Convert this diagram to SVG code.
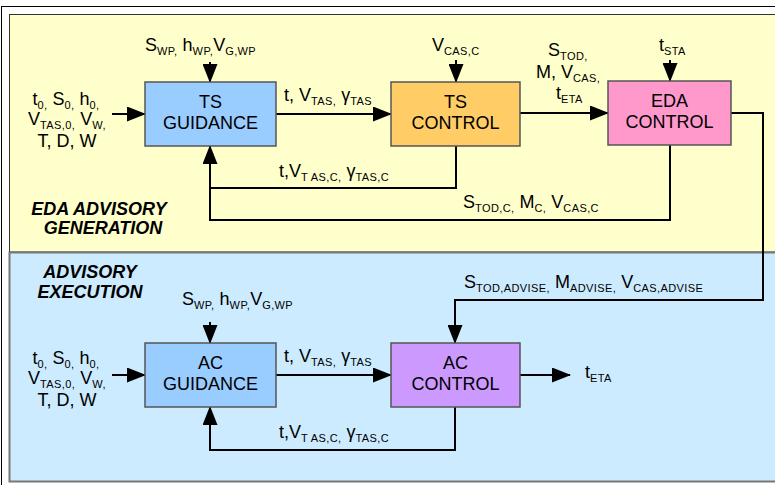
<svg xmlns="http://www.w3.org/2000/svg" width="775" height="485" viewBox="0 0 775 485">
<defs>
<marker id="ah" markerUnits="userSpaceOnUse" markerWidth="19" markerHeight="15" refX="18" refY="7.5" orient="auto"><path d="M0,0 L19,7.5 L0,15 z" fill="#000"/></marker>
<style>
text{font-family:"Liberation Sans",Arial,sans-serif;font-size:18px;fill:#000;white-space:pre}
.s{font-size:11px;letter-spacing:0.4px}
.c{text-anchor:middle}
.h{font-weight:bold;font-style:italic}
.box{stroke:#555;stroke-width:1.5}
.ln{fill:none;stroke:#000;stroke-width:2}
.arr{marker-end:url(#ah)}
</style>
</defs>
<rect x="0" y="0" width="775" height="485" fill="#fff"/>
<rect x="1.5" y="6.5" width="800" height="500" fill="#fff" stroke="#000" stroke-width="1"/>
<g id="panel-generation">
<rect x="9.5" y="14.5" width="800" height="237.5" fill="#FFFFCC" stroke="#333" stroke-width="1"/>
<text class="h c" x="99" y="215">EDA ADVISORY</text>
<text class="h c" x="103" y="234">GENERATION</text>
</g>
<g id="panel-execution">
<rect x="9.5" y="252.5" width="800" height="229" fill="#CCEBFF" stroke="#777" stroke-width="2"/>
<text class="h c" x="90" y="278">ADVISORY</text>
<text class="h c" x="90" y="298">EXECUTION</text>
</g>
<g id="connectors">
<path class="ln arr" d="M210,62 V82"/>
<path class="ln arr" d="M112,114 H145"/>
<path class="ln arr" d="M276,114 H391"/>
<path class="ln arr" d="M520,113 H608"/>
<path class="ln arr" d="M456,60 V82"/>
<path class="ln arr" d="M670,60 V81"/>
<path class="ln arr" d="M456,146 V188 H210 V146"/>
<path class="ln" d="M670,145 V220 H210 V188"/>
<path class="ln arr" d="M731,113 H763 V300 H455 V343"/>
<path class="ln arr" d="M210,322 V343"/>
<path class="ln arr" d="M112,375 H145"/>
<path class="ln arr" d="M276,375 H391"/>
<path class="ln arr" d="M520,375 H570"/>
<path class="ln arr" d="M455,407 V450 H210 V407"/>
</g>
<g id="ts-guidance">
<rect class="box" x="145" y="82" width="131" height="64" fill="#99CCFF"/>
<text class="c" x="210.5" y="108">TS</text>
<text class="c" x="210.5" y="129">GUIDANCE</text>
</g>
<g id="ts-control">
<rect class="box" x="391" y="82" width="129" height="64" fill="#FFCC66"/>
<text class="c" x="455.5" y="108">TS</text>
<text class="c" x="455.5" y="129">CONTROL</text>
</g>
<g id="eda-control">
<rect class="box" x="608" y="81" width="123" height="64" fill="#FF99CC"/>
<text class="c" x="669.5" y="107">EDA</text>
<text class="c" x="669.5" y="128">CONTROL</text>
</g>
<g id="ac-guidance">
<rect class="box" x="145" y="343" width="131" height="64" fill="#99CCFF"/>
<text class="c" x="210.5" y="369">AC</text>
<text class="c" x="210.5" y="390">GUIDANCE</text>
</g>
<g id="ac-control">
<rect class="box" x="391" y="343" width="129" height="64" fill="#CC99FF"/>
<text class="c" x="455.5" y="369">AC</text>
<text class="c" x="455.5" y="390">CONTROL</text>
</g>
<g id="labels">
<text x="145" y="51">S<tspan class="s" dy="4">WP,</tspan><tspan dy="-4"> h</tspan><tspan class="s" dy="4">WP,</tspan><tspan dy="-4">V</tspan><tspan class="s" dy="4">G,WP</tspan></text>
<text class="c" x="66" y="105">t<tspan class="s" dy="4">0,</tspan><tspan dy="-4"> S</tspan><tspan class="s" dy="4">0,</tspan><tspan dy="-4"> h</tspan><tspan class="s" dy="4">0,</tspan></text>
<text class="c" x="67" y="125">V<tspan class="s" dy="4">TAS,0,</tspan><tspan dy="-4"> V</tspan><tspan class="s" dy="4">W,</tspan></text>
<text class="c" x="67" y="147">T, D, W</text>
<text x="284" y="101">t, V<tspan class="s" dy="4">TAS,</tspan><tspan dy="-4"> γ</tspan><tspan class="s" dy="4">TAS</tspan></text>
<text x="279" y="177">t,V<tspan class="s" dy="4">T AS,C,</tspan><tspan dy="-4"> γ</tspan><tspan class="s" dy="4">TAS,C</tspan></text>
<text x="432" y="51">V<tspan class="s" dy="4">CAS,C</tspan></text>
<text x="548" y="56">S<tspan class="s" dy="4">TOD,</tspan></text>
<text x="536" y="78">M, V<tspan class="s" dy="4">CAS,</tspan></text>
<text x="556" y="99">t<tspan class="s" dy="4">ETA</tspan></text>
<text x="659" y="51">t<tspan class="s" dy="4">STA</tspan></text>
<text x="463" y="208">S<tspan class="s" dy="4">TOD,C,</tspan><tspan dy="-4"> M</tspan><tspan class="s" dy="4">C,</tspan><tspan dy="-4"> V</tspan><tspan class="s" dy="4">CAS,C</tspan></text>
<text x="182" y="305">S<tspan class="s" dy="4">WP,</tspan><tspan dy="-4"> h</tspan><tspan class="s" dy="4">WP,</tspan><tspan dy="-4">V</tspan><tspan class="s" dy="4">G,WP</tspan></text>
<text class="c" x="66" y="364">t<tspan class="s" dy="4">0,</tspan><tspan dy="-4"> S</tspan><tspan class="s" dy="4">0,</tspan><tspan dy="-4"> h</tspan><tspan class="s" dy="4">0,</tspan></text>
<text class="c" x="67" y="384">V<tspan class="s" dy="4">TAS,0,</tspan><tspan dy="-4"> V</tspan><tspan class="s" dy="4">W,</tspan></text>
<text class="c" x="67" y="406">T, D, W</text>
<text x="284" y="362">t, V<tspan class="s" dy="4">TAS,</tspan><tspan dy="-4"> γ</tspan><tspan class="s" dy="4">TAS</tspan></text>
<text x="279" y="438">t,V<tspan class="s" dy="4">T AS,C,</tspan><tspan dy="-4"> γ</tspan><tspan class="s" dy="4">TAS,C</tspan></text>
<text x="464" y="288">S<tspan class="s" dy="4">TOD,ADVISE,</tspan><tspan dy="-4"> M</tspan><tspan class="s" dy="4">ADVISE,</tspan><tspan dy="-4"> V</tspan><tspan class="s" dy="4">CAS,ADVISE</tspan></text>
<text x="585" y="378">t<tspan class="s" dy="4">ETA</tspan></text>
</g>
</svg>
